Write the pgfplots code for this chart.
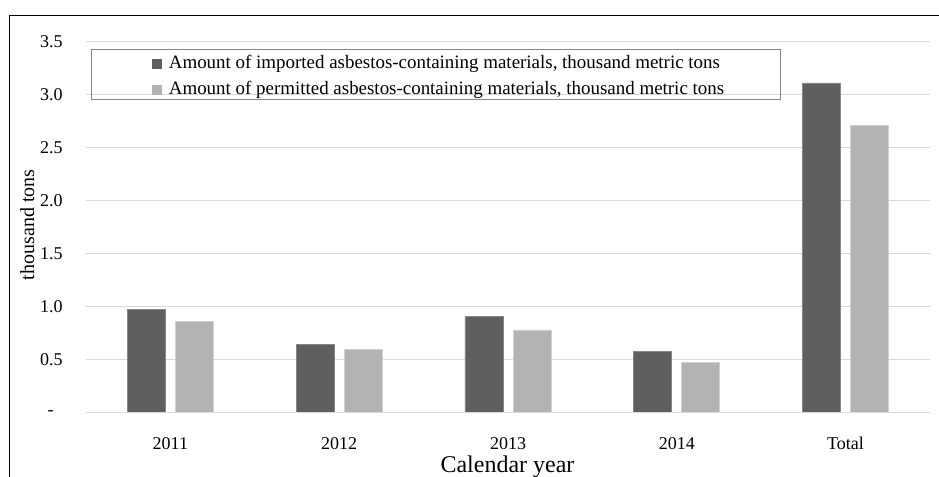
\documentclass[border=0pt]{standalone}
\usepackage{pgfplots}
\pgfplotsset{compat=1.18}
\usepackage{fontspec}
\setmainfont{Liberation Serif}

\definecolor{darkbar}{HTML}{5F5F5F}
\definecolor{lightbar}{HTML}{B3B3B3}
\definecolor{gridc}{HTML}{D9D9D9}

\begin{document}
\begin{tikzpicture}
  \begin{axis}[
    at={(0,0)}, anchor=south west,
    scale only axis,
    width=633pt, height=278.25pt,
    ybar=7.5pt, bar width=28.5pt,
    xmin=-0.5, xmax=4.5,
    ymin=0, ymax=3.5,
    xtick=data,
    xticklabels={2011,2012,2013,2014,Total},
    ytick={0,0.5,...,3.5},
    yticklabels={-\hphantom{0},0.5,1.0,1.5,2.0,2.5,3.0,3.5},
    axis line style={draw=none},
    tick style={draw=none},
    ymajorgrids,
    grid style={gridc, line width=0.9pt},
    xticklabel style={anchor=base, yshift=-23.5pt, font=\fontsize{13.5}{16}\selectfont},
    yticklabel style={anchor=east, inner sep=0pt, xshift=-17.25pt, font=\fontsize{13.5}{16}\selectfont},
    xlabel={Calendar year},
    xlabel style={at={(axis description cs:0.4994,-0.16)}, anchor=base, font=\fontsize{18}{21}\selectfont},
    ylabel={thousand tons},
    ylabel style={at={(axis description cs:-0.0695,0.506)}, anchor=center, rotate=0, font=\fontsize{15}{17}\selectfont},
    legend style={
      at={(rel axis cs:0.4147,0.9103)}, anchor=center, yshift=-1.5pt, xshift=1.5pt,
      draw=none, fill=none,
      font=\fontsize{14.2}{16}\selectfont,
      cells={anchor=west},
      nodes={inner sep=0pt, text height=10pt, text depth=3pt},
      row sep=6.5pt,
      /tikz/every odd column/.append style={column sep=5.25pt},
    },
    legend image code/.code={\fill[#1,draw=none] (0pt,-3.75pt) rectangle (7.5pt,3.75pt);},
  ]
    \addplot[fill=darkbar, draw=darkbar!75!white, line width=0.6pt]
      coordinates {(0,0.975) (1,0.645) (2,0.91) (3,0.58) (4,3.11)};
    \addlegendentry{Amount of imported asbestos-containing materials, thousand metric tons}
    \addplot[fill=lightbar, draw=lightbar!60!white, line width=0.6pt]
      coordinates {(0,0.86) (1,0.60) (2,0.78) (3,0.47) (4,2.71)};
    \addlegendentry{Amount of permitted asbestos-containing materials, thousand metric tons}

    \draw[gridc, line width=1.5pt] (axis cs:-0.5,0) -- (axis cs:4.5,0);
    \draw[black!47, line width=0.75pt]
      (rel axis cs:0.00711,0.9776) rectangle (rel axis cs:0.8223,0.8429);
  \end{axis}
  \draw[black, line width=1.1pt] (-57.4pt,-60pt) -- (-57.4pt,297.9pt) -- (660pt,297.9pt);
  \pgfresetboundingbox
  \useasboundingbox (-64.5pt,-48.2pt) rectangle (639.75pt,309.5pt);
\end{tikzpicture}
\end{document}
